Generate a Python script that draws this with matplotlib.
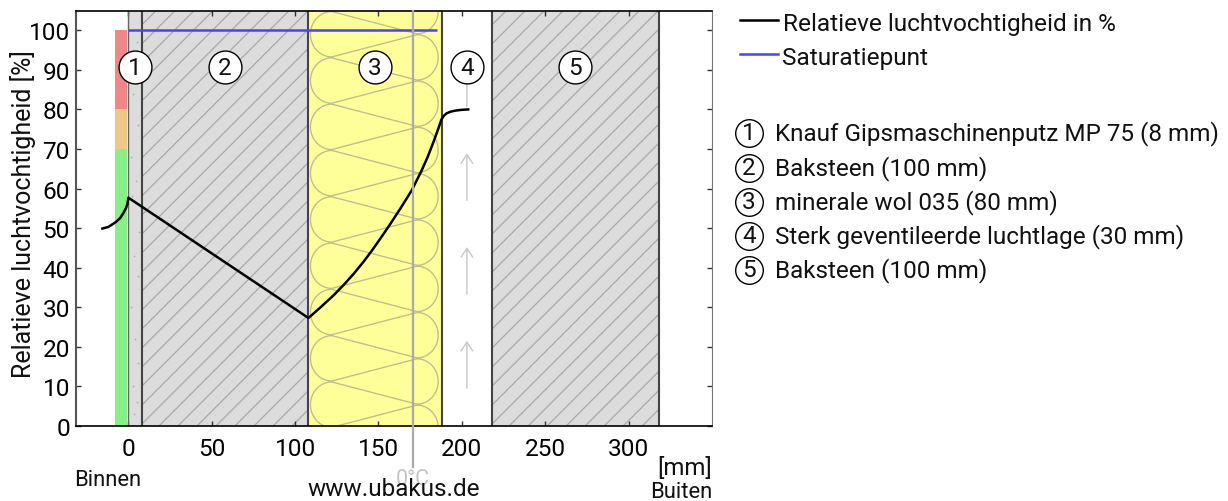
import numpy as np
import matplotlib
matplotlib.use('Agg')
import matplotlib.pyplot as plt
from matplotlib.collections import LineCollection
from matplotlib.patches import Rectangle

plt.rcParams['font.family'] = ['Roboto', 'DejaVu Sans']

# layers (start, end in mm)
layer_edges = [0, 8, 108, 188, 218, 318]
layer_names = ['Knauf Gipsmaschinenputz MP 75 (8 mm)', 'Baksteen (100 mm)', 'minerale wol 035 (80 mm)',
               'Sterk geventileerde luchtlage (30 mm)', 'Baksteen (100 mm)']
layer_colors = ['#dcdcdc', '#dcdcdc', '#ffff99', '#ffffff', '#dcdcdc']
label_x = [4, 58, 148, 203, 268]
label_y = 90.7

# comfort bar
zone_bottom = [0.3, 70, 80]
zone_top = [70, 80, 100]
zone_colors = ['#88ee88', '#eec888', '#ee8888']

# relative humidity curve
rh_x = [-15.6, -12, -8, -5, -3, -1.5, -0.6, 0, 108, 115, 123, 129, 135, 141, 146, 151, 157, 163.5, 170, 175.8,
        179.5, 183, 186, 187.8, 189.2, 190.8, 193, 196, 200, 203.8]
rh_y = [49.9, 50.3, 51.4, 52.5, 53.8, 55, 56, 57.7, 27.3, 29.9, 33, 35.6, 38.4, 41.5, 44.3, 47.3, 51, 55.2, 59.6,
        64.5, 68, 71.8, 75.3, 77.5, 78.4, 79, 79.4, 79.7, 79.9, 80]
sat_x = [0, 185]
sat_y = [100, 100]
zero_c_x = 170.6

# air flow arrows in the ventilated layer
arrow_x = 203
arrow_tail = [9.6, 33.3, 57, 80.7]
arrow_tip = [21.5, 45.2, 68.9, 92.6]

# plaster speckles
speck_x = [2.5, 5, 3, 6, 1.5, 4.5, 2, 6.5, 3.5, 5.5, 1.8, 4, 6, 2.8, 5, 3.2]
speck_y = [94, 97, 84, 76, 68, 62, 58, 49, 43, 38, 30, 22, 16, 10, 6, 3]

x_ticks = [0, 50, 100, 150, 200, 250, 300]
y_ticks = list(range(0, 101, 10))

fig = plt.figure(figsize=(12.28, 5.02), dpi=100)
W, H = 1228, 502
left, right, top, bottom = 75.5, 712, 11.5, 427
ax = fig.add_axes([left / W, 1 - bottom / H, (right - left) / W, (bottom - top) / H])
ax.set_xlim(-31.7, 350)
ax.set_ylim(0, 105)

# layers
rects = []
for i in range(5):
    r = Rectangle((layer_edges[i], 0), layer_edges[i + 1] - layer_edges[i], 105,
                  facecolor=layer_colors[i], edgecolor='none', zorder=1)
    ax.add_patch(r)
    rects.append(r)

# brick hatch, 45 degrees on screen
px_x = (right - left) / 381.7
px_y = (bottom - top) / 105
rise = 420 / px_x
for i in (1, 4):
    starts = np.arange(layer_edges[i] - rise, layer_edges[i + 1], 11.4)
    segs = [[(s, 0), (s + rise, 420 / px_y)] for s in starts]
    lc = LineCollection(segs, colors='#a8a8a8', linewidths=0.9, zorder=2)
    ax.add_collection(lc)
    lc.set_clip_path(rects[i])

# plaster speckles
ax.scatter(speck_x, speck_y, s=1.5, color='#aaaaaa', linewidths=0, zorder=2)

# mineral wool squiggle, left and right lobes joined by crossing straight lines
xl, xr, rx = 122, 173, 12.8
period = 11.7
first = 5.4 - period
ry = period * 0.49
wx, wy = [], []
t = np.linspace(0, np.pi, 40)
for k in range(11):
    yl = first + k * period
    yr = yl + period / 2
    wx += list(xl - rx * np.sin(t))
    wy += list(yl - ry * np.cos(t))
    wx += list(xr + rx * np.sin(t))
    wy += list(yr - ry * np.cos(t))
wool, = ax.plot(wx, wy, color='#bdbd8e', lw=0.95, zorder=2)
wool.set_clip_path(rects[2])

# layer borders
for x in layer_edges:
    ax.axvline(x, color='#444444' if x else '#666666', lw=1.5 if x else 1.0, zorder=3)

# comfort zones
for b, t_, c in zip(zone_bottom, zone_top, zone_colors):
    ax.bar(-4.3, t_ - b, width=7.4, bottom=b, color=c, zorder=3)

# arrows
for tail, tip in zip(arrow_tail, arrow_tip):
    ax.annotate('', xy=(arrow_x, tip), xytext=(arrow_x, tail), zorder=3,
                arrowprops=dict(arrowstyle='->,head_width=0.3,head_length=0.45', color='#c8c8c8', lw=1.0,
                                mutation_scale=14, shrinkA=0, shrinkB=0))

ax.plot(sat_x, sat_y, color='#4444ff', lw=1.8, zorder=4, solid_capstyle='butt')
ax.plot(rh_x, rh_y, color='black', lw=1.8, zorder=5)

# layer number circles
ax.scatter(label_x, [label_y] * 5, s=560, facecolor='white', edgecolor='black', linewidths=1, zorder=6)
for i, x in enumerate(label_x):
    ax.text(x, label_y - 0.1, str(i + 1), ha='center', va='center', fontsize=17.5, color='#111111', zorder=7)

ax.set_xticks(x_ticks)
ax.set_yticks(y_ticks)
ax.tick_params(axis='both', direction='in', top=True, right=True, length=3.6, width=1, labelsize=17.6,
               color='#333333', pad=4, zorder=8)
ax.tick_params(axis='x', pad=8)
ax.set_axisbelow(False)
for side in ('top', 'bottom'):
    ax.spines[side].set_color('black')
    ax.spines[side].set_linewidth(1.2)
ax.spines['left'].set_color('#555555')
ax.spines['left'].set_linewidth(1.5)
ax.spines['right'].set_color('#777777')
ax.spines['right'].set_linewidth(0.8)
for s in ax.spines.values():
    s.set_zorder(9)

# overlay in pixel coordinates for the texts around the plot
ov = fig.add_axes([0, 0, 1, 1], facecolor='none')
ov.set_xlim(0, W)
ov.set_ylim(H, 0)
ov.axis('off')

ov.text(23, 214, 'Relatieve luchtvochtigheid [%]', rotation=90, ha='center', va='center', fontsize=18, color='#111111')
zero_px = left + (zero_c_x + 31.7) * px_x
ov.plot([zero_px, zero_px], [top, 468], color='#aaaaaa', lw=1.6, zorder=2)
ov.text(zero_px, 480, '0°C', ha='center', va='center', fontsize=15.5, color='#c4c4c4', zorder=1)
ov.text(108, 481, 'Binnen', ha='center', va='center', fontsize=15.8, color='#111111')
ov.text(394, 490, 'www.ubakus.de', ha='center', va='center', fontsize=17.5, color='#111111', zorder=3)
ov.text(712, 469, '[mm]', ha='right', va='center', fontsize=17.3, color='#111111')
ov.text(712, 492.5, 'Buiten', ha='right', va='center', fontsize=15.8, color='#111111')

# legend
ov.plot([740, 778], [20.5, 20.5], color='black', lw=1.8)
ov.plot([740, 778], [54.5, 54.5], color='#4444ff', lw=1.8)
ov.text(783, 24, 'Relatieve luchtvochtigheid in %', va='center', fontsize=17.6, color='#111111')
ov.text(782, 58, 'Saturatiepunt', va='center', fontsize=17.6, color='#111111')
legend_y = [134, 168.5, 202.5, 237, 271]
for i, (name, y) in enumerate(zip(layer_names, legend_y)):
    ov.scatter([749], [y], s=395, facecolor='white', edgecolor='black', linewidths=1)
    ov.text(749, y, str(i + 1), ha='center', va='center', fontsize=17.5, color='#111111')
    ov.text(775, y, name, va='center', fontsize=17.5, color='#111111')

fig.savefig('out.png', dpi=100)
